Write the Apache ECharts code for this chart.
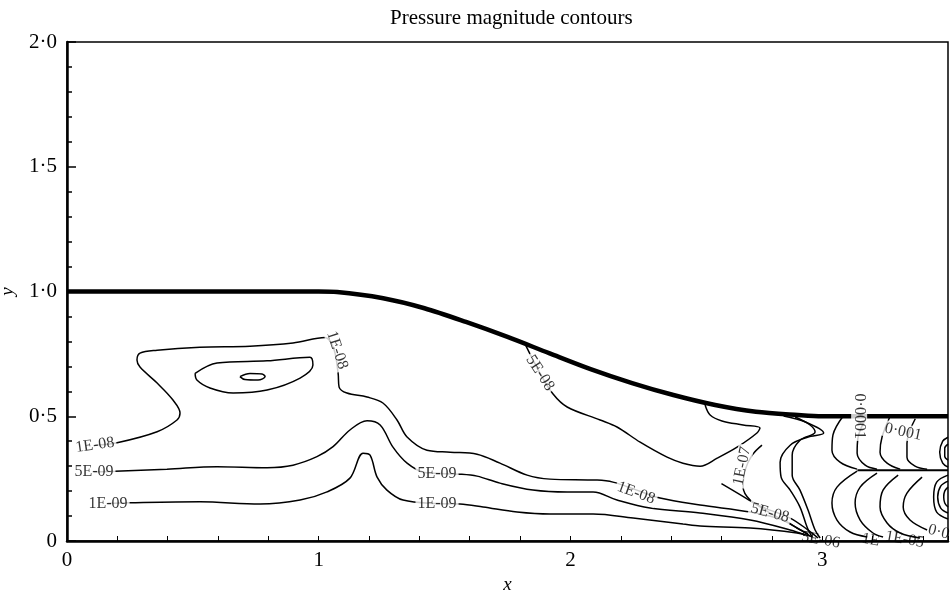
<!DOCTYPE html>
<html>
<head>
    <meta charset="utf-8">
    <title>Pressure magnitude contours</title>
    <script src="https://cdn.jsdelivr.net/npm/echarts@6.0.0/dist/echarts.min.js"></script>
    <style type="text/css">
        html, body { margin: 0; padding: 0; background: #fff; }
        #main { width: 951px; height: 594px; }
    </style>
</head>
<body>
    <div id="main"></div>
    <script>
        // duct wall (thick line)
        var wall = [[0, 1.0], [1.0, 1.0], [1.073, 0.998], [1.256, 0.973], [1.42, 0.933], [1.585, 0.878], [1.75, 0.818], [1.915, 0.753], [2.08, 0.689], [2.245, 0.633], [2.409, 0.585], [2.575, 0.545], [2.737, 0.518], [2.904, 0.505], [3.0, 0.5], [3.5, 0.5]];

        // contour lines
        var c1e09 = [[0.163, 0.150], [0.25, 0.153], [0.528, 0.157], [0.767, 0.148], [0.926, 0.164], [1.033, 0.197], [1.124, 0.252], [1.176, 0.352], [1.204, 0.344], [1.232, 0.256], [1.271, 0.204], [1.335, 0.164], [1.47, 0.150], [1.561, 0.148], [1.653, 0.136], [1.788, 0.116], [1.919, 0.108], [2.09, 0.108], [2.249, 0.092], [2.447, 0.068], [2.515, 0.06], [2.714, 0.052], [2.9, 0.032], [2.952, 0.02]];
        var c5e09 = [[0.107, 0.278], [0.191, 0.28], [0.397, 0.288], [0.596, 0.298], [0.795, 0.294], [0.898, 0.304], [0.993, 0.338], [1.057, 0.378], [1.124, 0.445], [1.192, 0.482], [1.244, 0.465], [1.295, 0.376], [1.351, 0.312], [1.42, 0.275], [1.561, 0.268], [1.629, 0.26], [1.72, 0.232], [1.851, 0.204], [1.987, 0.196], [2.09, 0.196], [2.185, 0.164], [2.316, 0.132], [2.515, 0.112], [2.714, 0.084], [2.873, 0.044], [2.932, 0.024]];
        var c1e08 = [[0.111, 0.384], [0.199, 0.394], [0.358, 0.438], [0.437, 0.485], [0.449, 0.513], [0.421, 0.565], [0.358, 0.633], [0.29, 0.697], [0.278, 0.725], [0.29, 0.753], [0.358, 0.765], [0.528, 0.777], [0.727, 0.781], [0.898, 0.794], [1.025, 0.816], [1.06, 0.77], [1.077, 0.673], [1.081, 0.617], [1.112, 0.593], [1.192, 0.577], [1.255, 0.553], [1.311, 0.485], [1.351, 0.417], [1.43, 0.364], [1.522, 0.356], [1.629, 0.348], [1.72, 0.312], [1.828, 0.264], [1.919, 0.248], [2.106, 0.244], [2.169, 0.236], [2.261, 0.205], [2.356, 0.172], [2.515, 0.144], [2.714, 0.116], [2.845, 0.084], [2.9, 0.052], [2.944, 0.028]];
        var loopA = [[0.509, 0.672], [0.596, 0.713], [0.795, 0.722], [0.965, 0.736], [0.977, 0.705], [0.926, 0.653], [0.795, 0.605], [0.66, 0.593], [0.568, 0.613], [0.516, 0.645], [0.509, 0.672]];
        var loopB = [[0.687, 0.659], [0.727, 0.671], [0.775, 0.669], [0.787, 0.659], [0.759, 0.645], [0.707, 0.647], [0.687, 0.659]];
        var c5e08 = [[1.82, 0.789], [1.879, 0.673], [1.931, 0.589], [1.987, 0.537], [2.118, 0.485], [2.185, 0.457], [2.277, 0.396], [2.384, 0.336], [2.447, 0.312], [2.515, 0.3], [2.583, 0.332], [2.662, 0.376], [2.741, 0.433], [2.753, 0.453], [2.686, 0.465], [2.602, 0.481], [2.555, 0.505], [2.535, 0.545]];
        var c5e08b = [[2.60, 0.23], [2.70, 0.17], [2.793, 0.112], [2.87, 0.07], [2.93, 0.035], [2.96, 0.015]];
        var c1e07 = [[2.761, 0.384], [2.722, 0.344], [2.694, 0.284], [2.686, 0.216], [2.714, 0.164], [2.773, 0.132], [2.873, 0.092], [2.944, 0.044], [2.984, 0.012]];
        var bandA = [[2.847, 0.501], [2.934, 0.477], [3.006, 0.433], [2.942, 0.416], [2.873, 0.384], [2.833, 0.316], [2.837, 0.256], [2.873, 0.204], [2.912, 0.136], [2.94, 0.056], [2.96, 0.016]];
        var bandB = [[2.893, 0.497], [2.952, 0.465], [2.972, 0.437], [2.912, 0.404], [2.881, 0.344], [2.881, 0.264], [2.912, 0.204], [2.944, 0.124], [2.972, 0.044], [2.992, 0.012]];
        var arc1U = [[3.083, 0.5], [3.043, 0.425], [3.039, 0.364], [3.071, 0.316], [3.139, 0.288]];
        var arc1L = [[3.139, 0.280], [3.059, 0.216], [3.039, 0.152], [3.059, 0.084], [3.111, 0.036], [3.179, 0.016]];
        var arc2U = [[3.179, 0.5], [3.143, 0.417], [3.139, 0.352], [3.171, 0.304], [3.218, 0.288]];
        var arc2L = [[3.218, 0.272], [3.151, 0.216], [3.131, 0.152], [3.151, 0.084], [3.202, 0.032], [3.242, 0.016]];
        var arc3U = [[3.27, 0.5], [3.238, 0.417], [3.23, 0.356], [3.258, 0.312], [3.31, 0.288]];
        var arc3L = [[3.302, 0.264], [3.242, 0.204], [3.23, 0.136], [3.258, 0.072], [3.31, 0.032], [3.389, 0.012]];
        var arc4U = [[3.37, 0.49], [3.337, 0.392], [3.337, 0.336], [3.369, 0.3], [3.417, 0.288]];
        var arc4L = [[3.397, 0.256], [3.337, 0.192], [3.322, 0.136], [3.349, 0.084], [3.417, 0.044]];
        var edgeU1 = [[3.5, 0.388], [3.487, 0.372], [3.487, 0.340], [3.5, 0.324]];
        var edgeU2 = [[3.5, 0.416], [3.479, 0.4], [3.467, 0.356], [3.479, 0.312], [3.5, 0.296]];
        var edgeL1 = [[3.5, 0.216], [3.487, 0.2], [3.483, 0.176], [3.487, 0.152], [3.5, 0.136]];
        var edgeL2 = [[3.5, 0.24], [3.471, 0.22], [3.459, 0.176], [3.471, 0.132], [3.5, 0.112]];
        var edgeL3 = [[3.5, 0.264], [3.455, 0.236], [3.443, 0.176], [3.455, 0.116], [3.5, 0.088]];
        var centreLine = [[3.14, 0.284], [3.5, 0.284]];

        // contour labels
        var labelText = ['1E-08', '5E-09', '1E-09', '1E-08', '5E-09', '1E-09', '5E-08', '1E-08', '1E-07', '5E-08', '5E-06', '1E', '1E-05', '0·0', '0·0001', '0·001'];
        var labelPos = [[0.111, 0.384], [0.107, 0.276], [0.163, 0.148], [1.073, 0.765], [1.47, 0.268], [1.47, 0.148], [1.879, 0.673], [2.261, 0.192], [2.682, 0.3], [2.793, 0.112], [2.994, 0.004], [3.193, 0.004], [3.328, 0.006], [3.463, 0.036], [3.147, 0.5], [3.322, 0.437]];
        var labelRot = [8, 0, 0, -72, 0, 0, -57, -20, 78, -15, -10, -10, -10, -15, -90, -12];
        var labelOnAxis = [false, false, false, false, false, false, false, false, false, false, true, true, true, true, false, false];

        var contours = [c1e09, c5e09, c1e08, loopA, loopB, c5e08, c5e08b, c1e07, bandA, bandB,
            arc1U, arc1L, arc2U, arc2L, arc3U, arc3L, arc4U, arc4L,
            edgeU1, edgeU2, edgeL1, edgeL2, edgeL3];

        var serif = 'Liberation Serif';
        var chart = echarts.init(document.getElementById('main'));

        var series = [];
        contours.forEach(function (c) {
            series.push({
                type: 'line', data: c, smooth: 0.35, symbol: 'none', silent: true,
                lineStyle: { color: '#000', width: 1.5 }, z: 3
            });
        });
        series.push({
            type: 'line', data: centreLine, symbol: 'none', silent: true,
            lineStyle: { color: '#000', width: 2 }, z: 3
        });
        series.push({
            type: 'line', data: wall, smooth: 0.3, symbol: 'none', silent: true,
            lineStyle: { color: '#000', width: 4.5 }, z: 4
        });

        var labelData = labelText.map(function (t, i) {
            return {
                name: t,
                value: labelPos[i],
                label: {
                    rotate: labelRot[i],
                    backgroundColor: labelOnAxis[i] ? 'transparent' : '#fff'
                }
            };
        });
        series.push({
            type: 'scatter', data: labelData, symbolSize: 1, silent: true, z: 10,
            itemStyle: { color: 'rgba(0,0,0,0)' },
            label: {
                show: true, position: 'inside', formatter: '{b}',
                fontFamily: serif, fontSize: 16, color: '#000', padding: [0, 2]
            }
        });

        var option = {
            animation: false,
            backgroundColor: '#fff',
            title: {
                text: 'Pressure magnitude contours',
                left: 385, top: 3,
                textStyle: { fontFamily: serif, fontSize: 21, fontWeight: 'normal', color: '#000' }
            },
            grid: {
                left: 67, right: 3, top: 42, bottom: 53,
                outerBoundsMode: 'none', containLabel: false,
                show: true, borderColor: '#000', borderWidth: 1.5, backgroundColor: '#fff'
            },
            xAxis: {
                type: 'value', min: 0, max: 3.5, interval: 0.2,
                name: 'x', nameLocation: 'middle', nameGap: 33,
                nameTextStyle: { fontFamily: serif, fontSize: 19, fontStyle: 'italic', color: '#000' },
                axisLine: { show: true, lineStyle: { color: '#000', width: 2.5 } },
                axisTick: { show: true, inside: true, length: 5, lineStyle: { color: '#000', width: 1 } },
                axisLabel: {
                    fontFamily: serif, fontSize: 21, color: '#000', margin: 9,
                    formatter: function (v) {
                        return Math.abs(v - Math.round(v)) < 1e-6 && v < 3.4 ? String(Math.round(v)) : '';
                    }
                },
                splitLine: { show: false }
            },
            yAxis: {
                type: 'value', min: 0, max: 2, interval: 0.5,
                name: 'y', nameLocation: 'middle', nameGap: 50,
                nameTextStyle: { fontFamily: serif, fontSize: 19, fontStyle: 'italic', color: '#000' },
                axisLine: { show: true, lineStyle: { color: '#000', width: 2.5 } },
                axisTick: { show: true, inside: true, length: 9, lineStyle: { color: '#000', width: 1.5 } },
                minorTick: { show: true, splitNumber: 5, length: 5, lineStyle: { color: '#000', width: 1.5 } },
                axisLabel: {
                    fontFamily: serif, fontSize: 21, color: '#000', margin: 10,
                    formatter: function (v) {
                        return v === 0 ? '0' : v.toFixed(1).replace('.', '·');
                    }
                },
                splitLine: { show: false }
            },
            series: series
        };
        chart.setOption(option);
    </script>
</body>
</html>
